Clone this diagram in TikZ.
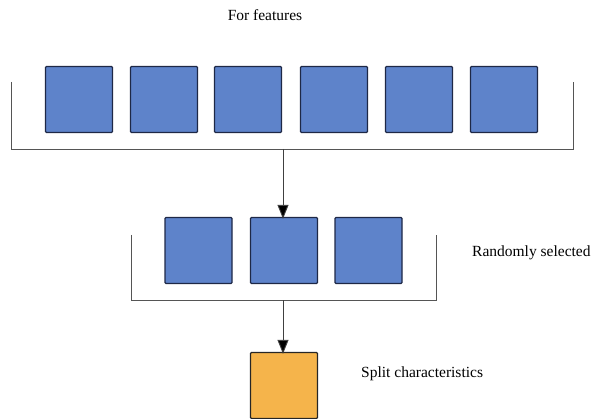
\documentclass[tikz,border=0pt]{standalone}
\usepackage{fontspec}
\setmainfont{Liberation Serif}
\usetikzlibrary{arrows.meta}
\definecolor{boxblue}{RGB}{94,131,202}
\definecolor{boxedge}{RGB}{30,40,70}
\definecolor{boxorange}{RGB}{245,180,75}
\definecolor{linegray}{RGB}{85,85,85}
\tikzset{
  feat/.style={draw=boxedge, line width=1.3pt, fill=boxblue, rounded corners=1pt,
    minimum width=67pt, minimum height=66pt, inner sep=0pt},
  chosen/.style={feat, fill=boxorange, draw=black!85},
  bracketline/.style={draw=linegray, line width=0.9pt},
  flow/.style={draw=black!75, line width=0.9pt, -{Triangle[width=11pt,length=14pt,fill=black]}},
  caption/.style={font=\fontsize{15.5}{18}\selectfont, inner sep=0pt, anchor=west}
}
\begin{document}
\begin{tikzpicture}[x=1pt, y=-1pt]
\useasboundingbox (0,0) rectangle (594,419);

% all features
\node[feat] (f1) at (79,99.5) {};
\node[feat] (f2) at (164,99.5) {};
\node[feat] (f3) at (248,99.5) {};
\node[feat] (f4) at (334,99.5) {};
\node[feat] (f5) at (419,99.5) {};
\node[feat] (f6) at (504,99.5) {};
\draw[bracketline] (11,82) -- (11,149) -- (573,149) -- (573,82);
\coordinate (top-out) at (283,149);

% randomly selected subset
\node[feat] (s1) at (198.5,250.5) {};
\node[feat] (s2) at (284,250.5) {};
\node[feat] (s3) at (368.5,250.5) {};
\draw[bracketline] (131,235) -- (131,300.5) -- (436.5,300.5) -- (436.5,235);
\coordinate (mid-out) at (283,300.5);

% split feature
\node[chosen] (sp) at (284,385.5) {};

\draw[flow] (top-out) -- ([yshift=-2pt]s2.north -| top-out);
\draw[flow] (mid-out) -- ([yshift=-2pt]sp.north -| mid-out);

% labels
\node[caption, anchor=center] (t1) at (265,15) {For features};
\node[caption] (t2) at (472,253) {Randomly selected};
\node[caption] (t3) at (361,374) {Split characteristics};
\end{tikzpicture}
\end{document}
